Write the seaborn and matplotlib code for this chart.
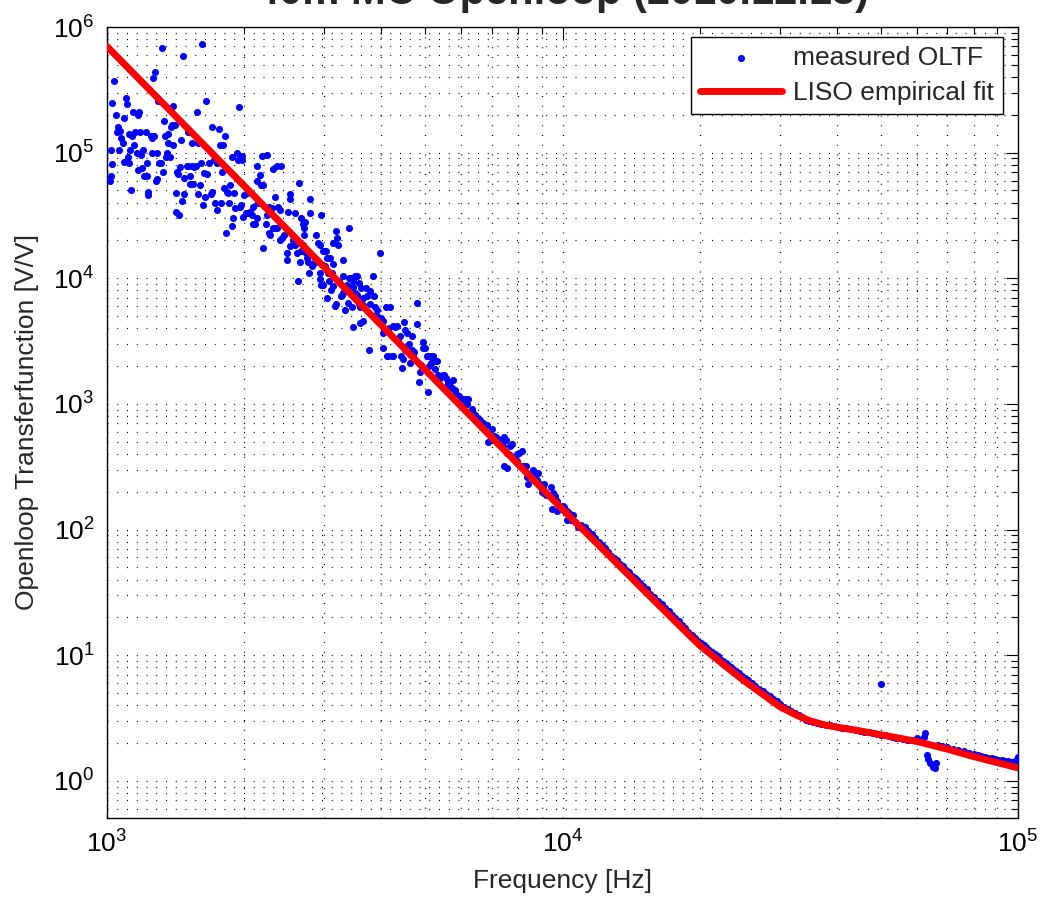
import matplotlib
matplotlib.use("Agg")
import matplotlib.pyplot as plt
import matplotlib.ticker as mticker
import pandas as pd
import seaborn as sns

# measured open loop transfer function, (Hz, V/V)
oltf_1k_1k5 = [
    (1015, 5.9e4), (1020, 6.5e4), (1020, 1.05e5), (1026, 8.1e4), (1026, 2.5e5),
    (1036, 3.7e5), (1047, 2.0e5), (1052, 1.45e5), (1057, 1.6e5), (1063, 1.05e5),
    (1068, 1.5e5), (1073, 1.3e5), (1084, 1.2e5), (1090, 8.5e4), (1090, 1.9e5),
    (1101, 2.7e5), (1106, 2.45e5), (1112, 9.2e4), (1118, 8.3e4), (1118, 1.4e5),
    (1123, 1.05e5), (1129, 5.0e4), (1135, 1.35e5), (1141, 2.1e5), (1146, 1.15e5),
    (1152, 1.45e5), (1164, 1.0e5), (1170, 2.0e5), (1170, 7.3e4), (1176, 2.1e5),
    (1181, 1.45e5), (1187, 9.5e4), (1193, 7.5e4), (1199, 1.05e5), (1206, 6.5e4),
    (1218, 1.45e5), (1224, 6.5e4), (1224, 8.3e4), (1230, 4.9e4), (1232, 4.6e4),
    (1249, 1.35e5), (1255, 1.3e5), (1255, 1.0e5), (1262, 3.9e5), (1268, 1.35e5),
    (1274, 4.4e5), (1281, 5.9e4), (1288, 1.0e5), (1288, 6.2e4), (1294, 2.6e5),
    (1301, 8.3e4), (1314, 8.3e4), (1320, 6.8e5), (1327, 7.0e4), (1334, 1.8e5),
    (1341, 1.35e5), (1347, 9.2e4), (1354, 1.0e5), (1361, 1.4e5), (1361, 1.2e5),
    (1375, 9.2e4), (1382, 1.6e5), (1389, 1.65e5), (1396, 2.35e5), (1396, 1.15e5),
    (1410, 1.65e5), (1417, 4.8e4), (1417, 3.4e4), (1424, 7.0e4), (1432, 6.8e4),
    (1439, 3.2e4), (1446, 7.7e4), (1454, 1.25e5), (1461, 4.1e4), (1468, 5.9e5),
    (1476, 4.7e4), (1476, 6.3e4), (1498, 7.8e4),
]

oltf_1k5_3k = [
    (1506, 1.45e5), (1506, 7.8e4), (1521, 6.5e4), (1521, 5.6e4), (1537, 7.8e4),
    (1537, 1.2e5), (1545, 5.6e4), (1552, 7.7e4), (1568, 7.8e4), (1576, 2.1e5),
    (1584, 4.7e4), (1584, 1.2e5), (1600, 5.5e4), (1608, 8.2e4), (1617, 7.3e5),
    (1625, 3.8e4), (1633, 6.9e4), (1641, 4.4e4), (1649, 2.6e5), (1658, 6.8e4),
    (1675, 8.3e4), (1692, 4.7e4), (1700, 1.6e5), (1700, 4.9e4), (1718, 8.7e4),
    (1726, 4.0e4), (1744, 8.3e4), (1744, 3.5e4), (1762, 1.55e5), (1770, 1.15e5),
    (1779, 4.0e4), (1788, 7.0e4), (1797, 1.15e5), (1806, 5.2e4), (1815, 1.35e5),
    (1825, 2.3e4), (1834, 4.9e4), (1843, 4.8e4), (1852, 4.0e4), (1862, 5.5e4),
    (1881, 9.2e4), (1881, 2.6e4), (1890, 3.0e4), (1900, 4.8e4), (1910, 3.6e4),
    (1929, 1.0e5), (1939, 8.7e4), (1949, 2.3e5), (1959, 3.7e4), (1969, 3.8e4),
    (1979, 9.4e4), (1979, 8.7e4), (1989, 3.1e4), (1999, 4.6e4), (2019, 3.3e4),
    (2030, 4.8e4), (2040, 3.3e4), (2061, 3.4e4), (2082, 3.2e4), (2092, 3.7e4),
    (2092, 2.7e4), (2113, 2.7e4), (2135, 7.8e4), (2135, 5.9e4), (2135, 3.0e4),
    (2146, 4.0e4), (2168, 6.6e4), (2179, 5.5e4), (2190, 9.4e4), (2201, 5.5e4),
    (2201, 1.75e4), (2235, 2.7e4), (2246, 9.5e4), (2246, 3.2e4), (2269, 3.7e4),
    (2269, 2.3e4), (2280, 2.2e4), (2303, 3.6e4), (2315, 7.4e4), (2315, 2.5e4),
    (2338, 4.4e4), (2338, 2.5e4), (2362, 7.8e4), (2362, 2.5e4), (2374, 3.7e4),
    (2398, 3.5e4), (2398, 2.0e4), (2410, 7.8e4), (2423, 2.1e4), (2447, 2.2e4),
    (2484, 1.6e4), (2484, 1.4e4), (2497, 3.4e4), (2522, 4.3e4), (2522, 4.7e4),
    (2522, 1.8e4), (2560, 2.0e4), (2586, 3.3e4), (2586, 1.85e4), (2613, 1.6e4),
    (2626, 9.5e3), (2640, 5.7e4), (2653, 1.35e4), (2667, 3.0e4), (2667, 1.65e4),
    (2694, 2.7e4), (2694, 1.85e4), (2708, 2.5e4), (2708, 2.2e4), (2722, 2.8e4),
    (2735, 1.6e4), (2749, 1.45e4), (2763, 1.35e4), (2777, 1.1e4), (2791, 3.3e4),
    (2791, 4.3e4), (2818, 1.25e4), (2833, 1.3e4), (2861, 1.35e4), (2876, 2.2e4),
    (2905, 1.9e4), (2935, 1.85e4), (2935, 1.1e4), (2935, 9.8e3), (2950, 3.2e4),
    (2950, 8.9e3), (2980, 1.65e4), (2980, 8.8e3), (2995, 1.65e4),
]

oltf_3k_6k = [
    (3010, 1.25e4), (3025, 1.65e4), (3041, 1.45e4), (3041, 7.0e3), (3056, 1.1e4),
    (3072, 9.5e3), (3087, 1.45e4), (3103, 8.1e3), (3119, 1.1e4), (3135, 1.3e4),
    (3135, 1.9e4), (3135, 8.7e3), (3166, 6.0e3), (3182, 2.4e4), (3182, 6.2e3),
    (3198, 2.1e4), (3215, 1.85e4), (3230, 9.5e3), (3264, 7.2e3), (3281, 7.4e3),
    (3297, 1.4e4), (3297, 1.05e4), (3297, 7.6e3), (3331, 5.6e3), (3365, 8.8e3),
    (3382, 6.4e3), (3399, 2.5e4), (3399, 1.0e4), (3420, 7.9e3), (3434, 1.0e4),
    (3451, 5.9e3), (3469, 9.5e3), (3469, 8.6e3), (3469, 4.1e3), (3504, 1.05e4),
    (3504, 7.7e3), (3539, 1.05e4), (3539, 7.3e3), (3575, 9.1e3), (3575, 6.2e3),
    (3593, 5.9e3), (3593, 4.4e3), (3611, 8.3e3), (3648, 7.0e3), (3648, 4.6e3),
    (3650, 6.1e3), (3704, 8.3e3), (3722, 7.2e3), (3760, 2.7e3), (3779, 7.9e3),
    (3779, 6.3e3), (3837, 1.05e4), (3856, 7.2e3), (3876, 5.9e3), (3880, 5.0e3),
    (3915, 5.6e3), (3915, 5.0e3), (3974, 1.6e4), (3994, 4.3e3), (3994, 4.8e3),
    (4035, 4.6e3), (4035, 3.7e3), (4035, 2.8e3), (4097, 5.9e3), (4118, 2.4e3),
    (4139, 2.4e3), (4150, 4.0e3), (4181, 5.9e3), (4224, 2.4e3), (4245, 4.2e3),
    (4245, 2.4e3), (4288, 4.1e3), (4332, 4.2e3), (4360, 3.3e3), (4398, 3.5e3),
    (4420, 2.4e3), (4443, 1.95e3), (4465, 2.3e3), (4487, 4.5e3), (4510, 3.9e3),
    (4510, 2.7e3), (4556, 3.7e3), (4556, 2.9e3), (4603, 3.0e3), (4626, 2.5e3),
    (4626, 2.1e3), (4673, 3.5e3), (4673, 2.7e3), (4700, 2.4e3), (4721, 2.6e3),
    (4794, 6.4e3), (4794, 4.3e3), (4842, 1.5e3), (4867, 1.8e3), (4900, 2.05e3),
    (4941, 3.1e3), (4941, 2.8e3), (4991, 2.8e3), (5042, 2.4e3), (5068, 1.25e3),
    (5094, 2.0e3), (5120, 2.4e3), (5146, 2.1e3), (5172, 2.4e3), (5198, 2.4e3),
    (5251, 2.2e3), (5251, 1.9e3), (5304, 2.2e3), (5331, 1.7e3), (5385, 1.6e3),
    (5467, 1.7e3), (5495, 1.7e3), (5551, 1.6e3), (5579, 1.4e3), (5608, 1.5e3),
    (5665, 1.4e3), (5723, 1.35e3), (5752, 1.55e3), (5810, 1.3e3), (5840, 1.2e3),
    (5929, 1.15e3), (5989, 1.1e3),
]

oltf_6k_11k = [
    (6081, 1.1e3), (6143, 1.1e3), (6143, 1.0e3), (6174, 1.0e3), (6206, 1.1e3),
    (6332, 9.1e2), (6364, 8.5e2), (6429, 8.2e2), (6527, 7.8e2), (6594, 7.4e2),
    (6695, 7.1e2), (6831, 6.8e2), (6866, 5.0e2), (7006, 6.3e2), (7006, 5.2e2),
    (7077, 5.6e2), (7145, 5.5e2), (7218, 5.3e2), (7292, 5.2e2), (7366, 4.8e2),
    (7404, 4.6e2), (7441, 5.5e2), (7441, 3.2e2), (7516, 5.2e2), (7555, 4.1e2),
    (7555, 3.1e2), (7670, 4.6e2), (7670, 3.9e2), (7748, 4.8e2), (7866, 3.6e2),
    (7946, 4.0e2), (7946, 3.5e2), (8027, 4.1e2), (8068, 3.2e2), (8150, 4.2e2),
    (8191, 3.2e2), (8317, 3.2e2), (8359, 2.6e2), (8401, 2.3e2), (8530, 2.8e2),
    (8616, 3.0e2), (8616, 2.6e2), (8748, 2.8e2), (8790, 2.5e2), (8835, 2.8e2),
    (8925, 2.3e2), (9016, 2.0e2), (9061, 2.2e2), (9107, 2.3e2), (9200, 1.9e2),
    (9294, 1.9e2), (9436, 2.2e2), (9484, 1.45e2), (9533, 1.95e2), (9627, 1.85e2),
    (9676, 1.7e2), (9725, 1.7e2), (9725, 1.4e2), (10000, 1.55e2), (10080, 1.5e2),
    (10230, 1.4e2), (10230, 1.2e2), (10330, 1.35e2), (10440, 1.2e2), (10490, 1.3e2),
    (10550, 1.3e2), (10650, 1.15e2), (10810, 1.05e2),
]

oltf_11k_100k = [
    (1.10e4, 108), (1.12e4, 104), (1.14e4, 97), (1.16e4, 92), (1.18e4, 85),
    (1.20e4, 80), (1.22e4, 75), (1.24e4, 71), (1.26e4, 66), (1.28e4, 62),
    (1.30e4, 59), (1.32e4, 57), (1.34e4, 53), (1.36e4, 51), (1.38e4, 48),
    (1.40e4, 46), (1.42e4, 43), (1.44e4, 41.5), (1.46e4, 39.5), (1.48e4, 37.5),
    (1.50e4, 35.5), (1.53e4, 33.5), (1.56e4, 31), (1.59e4, 29), (1.62e4, 27),
    (1.65e4, 25.5), (1.68e4, 24), (1.71e4, 22.5), (1.74e4, 21), (1.77e4, 19.8),
    (1.80e4, 18.6), (1.83e4, 17.5), (1.86e4, 16.4), (1.89e4, 15.4), (1.92e4, 14.6),
    (1.95e4, 13.8), (1.98e4, 13.1), (2.01e4, 12.5), (2.04e4, 12.1), (2.07e4, 11.6),
    (2.10e4, 11.1), (2.13e4, 10.6), (2.16e4, 10.2), (2.19e4, 9.8), (2.22e4, 9.4),
    (2.25e4, 9.0), (2.28e4, 8.7), (2.31e4, 8.4), (2.34e4, 8.1), (2.37e4, 7.8),
    (2.40e4, 7.5), (2.44e4, 7.2), (2.48e4, 6.9), (2.52e4, 6.6), (2.56e4, 6.3),
    (2.60e4, 6.0), (2.65e4, 5.7), (2.70e4, 5.4), (2.75e4, 5.15), (2.80e4, 4.95),
    (2.85e4, 4.7), (2.90e4, 4.5), (2.95e4, 4.3), (3.00e4, 4.1), (3.06e4, 3.9),
    (3.12e4, 3.75), (3.18e4, 3.6), (3.24e4, 3.48), (3.30e4, 3.35), (3.36e4, 3.2),
    (3.42e4, 3.08), (3.48e4, 2.98), (3.55e4, 2.92), (3.62e4, 2.88), (3.70e4, 2.84),
    (3.78e4, 2.8), (3.86e4, 2.77), (3.94e4, 2.72), (4.02e4, 2.69), (4.10e4, 2.65),
    (4.20e4, 2.62), (4.30e4, 2.58), (4.40e4, 2.55), (4.50e4, 2.51), (4.60e4, 2.47),
    (4.70e4, 2.43), (4.80e4, 2.39), (4.90e4, 2.36), (5.00e4, 2.33), (5.00e4, 5.9),
    (5.10e4, 2.3), (5.20e4, 2.27), (5.30e4, 2.24), (5.40e4, 2.21), (5.50e4, 2.18),
    (5.60e4, 2.15), (5.70e4, 2.12), (5.80e4, 2.10), (5.90e4, 2.12), (6.00e4, 2.19),
    (6.10e4, 2.1), (6.22e4, 2.23), (6.25e4, 2.4), (6.30e4, 1.61), (6.35e4, 1.5),
    (6.41e4, 1.38), (6.50e4, 1.3), (6.58e4, 1.26), (6.60e4, 1.40), (6.68e4, 1.94),
    (6.80e4, 1.9), (7.00e4, 1.86), (7.20e4, 1.81), (7.40e4, 1.77), (7.60e4, 1.72),
    (7.80e4, 1.68), (8.00e4, 1.64), (8.15e4, 1.61), (8.30e4, 1.58), (8.45e4, 1.55),
    (8.60e4, 1.53), (8.75e4, 1.51), (8.90e4, 1.49), (9.05e4, 1.47), (9.20e4, 1.46),
    (9.35e4, 1.45), (9.50e4, 1.44), (9.70e4, 1.42), (9.85e4, 1.43), (9.95e4, 1.5),
    (1.00e5, 1.55),
]

# LISO empirical fit, knots
fit_freq = [1e3, 1e4, 1.25e4, 1.5e4, 1.75e4, 2e4, 2.25e4, 2.5e4, 2.75e4, 3e4,
            3.25e4, 3.5e4, 3.75e4, 4e4, 4.5e4, 5e4, 6e4, 7e4, 8e4, 9e4, 1e5]
fit_mag = [7.0e5, 145, 65, 33.6, 19.3, 12.0, 8.5, 6.3, 4.9, 3.9,
           3.36, 3.0, 2.8, 2.68, 2.50, 2.33, 2.06, 1.79, 1.56, 1.40, 1.27]

meas = pd.DataFrame(oltf_1k_1k5 + oltf_1k5_3k + oltf_3k_6k + oltf_6k_11k + oltf_11k_100k,
                    columns=["freq", "mag"])
fit = pd.DataFrame({"freq": fit_freq, "mag": fit_mag})

sns.set_style("white")
plt.rcParams["font.family"] = ["Liberation Sans", "DejaVu Sans"]
plt.rcParams["mathtext.default"] = "regular"

fig = plt.figure(figsize=(10.4, 9.01), dpi=100)
ax = fig.add_axes([107 / 1040, 1 - 818 / 901, 911 / 1040, 791 / 901])
ax.set_xscale("log")
ax.set_yscale("log")

sns.scatterplot(data=meas, x="freq", y="mag", ax=ax, color=(0, 0, 1), s=26,
                linewidth=0, marker="o", label="measured OLTF", zorder=3)
sns.lineplot(data=fit, x="freq", y="mag", ax=ax, color=(1, 0, 0), linewidth=5,
             estimator=None, label="LISO empirical fit", zorder=4)

ax.set_xlim(1e3, 1e5)
ax.set_ylim(10 ** -0.295, 1e6)

for axis in (ax.xaxis, ax.yaxis):
    axis.set_major_locator(mticker.LogLocator(base=10, numticks=20))
    axis.set_minor_locator(mticker.LogLocator(base=10, subs=range(2, 10), numticks=20))
    axis.set_minor_formatter(mticker.NullFormatter())

ax.grid(True, which="both", color="black", linestyle=(0, (0.8, 7)), linewidth=0.9)
ax.tick_params(which="both", direction="in", top=True, right=True, colors="black",
               labelsize=19, width=0.8)
ax.tick_params(which="major", length=9, pad=9)
ax.tick_params(which="minor", length=5)
for sp in ax.spines.values():
    sp.set_color("black")
    sp.set_linewidth(1.0)

ax.set_xlabel("Frequency [Hz]", fontsize=19, labelpad=8)
ax.set_ylabel("Openloop Transferfunction [V/V]", fontsize=19, labelpad=10)

fig.text(562 / 1040, 1 - 4 / 901, "40m MC Openloop (2010.12.13)", ha="center",
         va="baseline", fontsize=30, fontweight="bold")

leg = ax.legend(loc="upper right", bbox_to_anchor=(0.9835, 0.9874), borderaxespad=0,
                fontsize=19, frameon=True, fancybox=False, edgecolor="black",
                framealpha=1, handlelength=3.1, handletextpad=0.4,
                labelspacing=0.4, borderpad=0.35)
leg.get_frame().set_linewidth(1.0)

fig.savefig("out.png", dpi=100)
